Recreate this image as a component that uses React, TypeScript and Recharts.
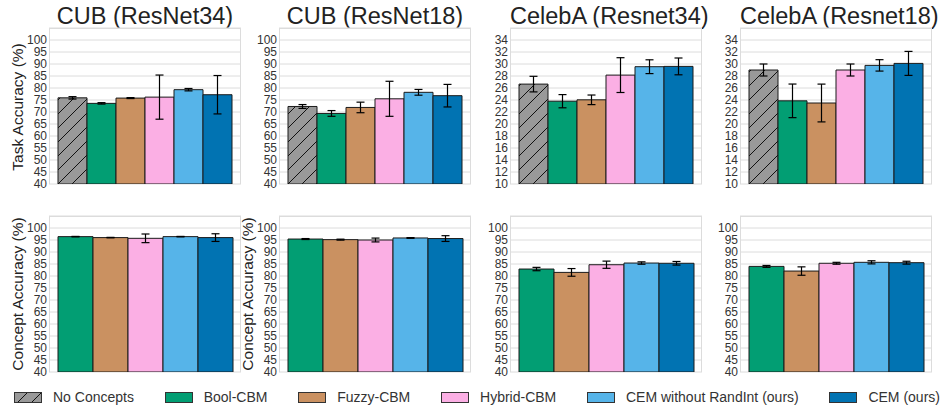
import React from "react";
import { BarChart, Bar, XAxis, YAxis, CartesianGrid, ErrorBar } from "recharts";

// ---------- data ----------
const methods = [
  "No Concepts",
  "Bool-CBM",
  "Fuzzy-CBM",
  "Hybrid-CBM",
  "CEM without RandInt (ours)",
  "CEM (ours)",
];
const methodColors = ["#999999", "#029e73", "#ca9161", "#fbafe4", "#56b4e9", "#0173b2"];

const titles = ["CUB (ResNet34)", "CUB (ResNet18)", "CelebA (Resnet34)", "CelebA (Resnet18)"];

// Task accuracy (all 6 methods)
const taskCubR34 = [75.9, 73.6, 75.8, 76.2, 79.3, 77.2];
const taskCubR34Err = [0.5, 0.3, 0.2, 9.2, 0.5, 8.0];
const taskCubR18 = [72.3, 69.4, 71.9, 75.5, 78.2, 76.8];
const taskCubR18Err = [0.8, 1.2, 2.2, 7.3, 1.2, 4.7];
const taskCelebR34 = [26.65, 23.8, 24.03, 28.15, 29.55, 29.6];
const taskCelebR34Err = [1.3, 1.1, 0.8, 2.9, 1.15, 1.4];
const taskCelebR18 = [29.0, 23.86, 23.5, 29.0, 29.77, 30.1];
const taskCelebR18Err = [1.0, 2.8, 3.15, 1.0, 0.95, 2.0];

// Concept accuracy (methods 2..6, no "No Concepts")
const conceptCubR34 = [96.4, 96.0, 95.7, 96.4, 96.0];
const conceptCubR34Err = [0.1, 0.1, 1.8, 0.1, 1.6];
const conceptCubR18 = [95.4, 95.15, 95.0, 95.85, 95.6];
const conceptCubR18Err = [0.2, 0.2, 0.8, 0.15, 1.2];
const conceptCelebR34 = [82.9, 81.5, 84.7, 85.4, 85.3];
const conceptCelebR34Err = [0.7, 1.6, 1.5, 0.5, 0.75];
const conceptCelebR18 = [84.0, 82.06, 85.3, 85.7, 85.55];
const conceptCelebR18Err = [0.4, 1.75, 0.4, 0.65, 0.6];

const cubTicks = [40, 45, 50, 55, 60, 65, 70, 75, 80, 85, 90, 95, 100];
const celebTicks = [10, 12, 14, 16, 18, 20, 22, 24, 26, 28, 30, 32, 34];
const cubDomain: [number, number] = [40, 105];
const celebDomain: [number, number] = [10, 36];

// ---------- layout ----------
const FONT = "'Liberation Sans', Arial, Helvetica, sans-serif";
const plotLefts = [49, 279, 510, 740];
const plotTops = [28, 216];
const PLOT_W = 192;
const PLOT_H = 156;
const YAXIS_W = 40;
const M_TOP = 5;
const M_BOTTOM = 8;
const M_RIGHT = 4;

type PanelProps = {
  left: number;
  top: number;
  values: number[];
  errs: number[];
  methodIdx: number[];
  ticks: number[];
  domain: [number, number];
};

function Panel({ left, top, values, errs, methodIdx, ticks, domain }: PanelProps) {
  const row: Record<string, number | string> = { name: "all" };
  values.forEach((v, i) => {
    row["v" + i] = v;
    row["e" + i] = errs[i];
  });
  const data = [row];
  return (
    <div style={{ position: "absolute", left: left - YAXIS_W, top: top - M_TOP }}>
      <BarChart
        width={YAXIS_W + PLOT_W + M_RIGHT}
        height={M_TOP + PLOT_H + M_BOTTOM}
        data={data}
        margin={{ top: M_TOP, right: M_RIGHT, left: 0, bottom: M_BOTTOM }}
        barCategoryGap={9}
        barGap={0}
      >
        <CartesianGrid vertical={false} stroke="#dcdcdc" strokeWidth={1} />
        <XAxis dataKey="name" type="category" hide />
        <YAxis
          width={YAXIS_W}
          domain={domain}
          ticks={ticks}
          interval={0}
          allowDataOverflow
          axisLine={false}
          tickLine={false}
          tickSize={0}
          tickMargin={2}
          tick={{ fontSize: 12, fill: "#333", fontFamily: FONT }}
        />
        {values.map((_, i) => {
          const m = methodIdx[i];
          const fill = m === 0 ? "url(#hatchNC)" : methodColors[m];
          return (
            <Bar
              key={i}
              dataKey={"v" + i}
              name={methods[m]}
              fill={fill}
              stroke="#1a1a1a"
              strokeWidth={1}
              isAnimationActive={false}
            >
              <ErrorBar dataKey={"e" + i} width={4} stroke="#000" strokeWidth={1.2} />
            </Bar>
          );
        })}
      </BarChart>
      <div
        style={{
          position: "absolute",
          left: YAXIS_W,
          top: M_TOP,
          width: PLOT_W,
          height: PLOT_H,
          boxSizing: "border-box",
          borderTop: "1px solid #dcdcdc",
          borderLeft: "1px solid #dcdcdc",
          borderRight: "1px solid #dcdcdc",
          pointerEvents: "none",
        }}
      />
    </div>
  );
}

const taskVals = [taskCubR34, taskCubR18, taskCelebR34, taskCelebR18];
const taskErrs = [taskCubR34Err, taskCubR18Err, taskCelebR34Err, taskCelebR18Err];
const conceptVals = [conceptCubR34, conceptCubR18, conceptCelebR34, conceptCelebR18];
const conceptErrs = [conceptCubR34Err, conceptCubR18Err, conceptCelebR34Err, conceptCelebR18Err];

function YLabel({ text, cx, cy }: { text: string; cx: number; cy: number }) {
  return (
    <div
      style={{
        position: "absolute",
        left: cx,
        top: cy,
        transform: "translate(-50%, -50%) rotate(-90deg)",
        whiteSpace: "nowrap",
        fontSize: 15.5,
        fontFamily: FONT,
        color: "#222",
        lineHeight: "18px",
      }}
    >
      {text}
    </div>
  );
}

function Swatch({ m }: { m: number }) {
  return (
    <svg width={28} height={11} style={{ display: "block" }}>
      <rect
        x={0.5}
        y={0.5}
        width={27}
        height={10}
        fill={m === 0 ? "url(#hatchNC)" : methodColors[m]}
        stroke="#333"
        strokeWidth={1}
      />
    </svg>
  );
}

export default function App() {
  return (
    <div
      style={{
        position: "absolute",
        left: 0,
        top: 0,
        width: 943,
        height: 406,
        background: "#fff",
        fontFamily: FONT,
        overflow: "hidden",
      }}
    >
      <svg width={0} height={0} style={{ position: "absolute" }}>
        <defs>
          <pattern id="hatchNC" patternUnits="userSpaceOnUse" width={14} height={14}>
            <rect x={0} y={0} width={14} height={14} fill="#999999" />
            <path
              d="M0,14 L14,0 M-3.5,3.5 L3.5,-3.5 M10.5,17.5 L17.5,10.5"
              stroke="#111"
              strokeWidth={1}
            />
          </pattern>
        </defs>
      </svg>

      {titles.map((t, i) => (
        <div
          key={t}
          style={{
            position: "absolute",
            left: plotLefts[i],
            top: 4,
            width: PLOT_W,
            textAlign: "center",
            fontSize: 23.5,
            lineHeight: "24px",
            color: "#222",
            whiteSpace: "nowrap",
          }}
        >
          {t}
        </div>
      ))}

      {plotLefts.map((l, i) => (
        <Panel
          key={"t" + i}
          left={l}
          top={plotTops[0]}
          values={taskVals[i]}
          errs={taskErrs[i]}
          methodIdx={[0, 1, 2, 3, 4, 5]}
          ticks={i < 2 ? cubTicks : celebTicks}
          domain={i < 2 ? cubDomain : celebDomain}
        />
      ))}
      {plotLefts.map((l, i) => (
        <Panel
          key={"c" + i}
          left={l}
          top={plotTops[1]}
          values={conceptVals[i]}
          errs={conceptErrs[i]}
          methodIdx={[1, 2, 3, 4, 5]}
          ticks={cubTicks}
          domain={cubDomain}
        />
      ))}

      <YLabel text="Task Accuracy (%)" cx={17.5} cy={106.7} />
      <YLabel text="Concept Accuracy (%)" cx={17.5} cy={293.7} />
      <YLabel text="Concept Accuracy (%)" cx={247.5} cy={293.7} />

      <div
        style={{
          position: "absolute",
          left: 14,
          top: 389,
          width: 926,
          height: 16,
          display: "flex",
          justifyContent: "space-between",
          alignItems: "center",
          fontSize: 14,
          color: "#333",
        }}
      >
        {methods.map((name, m) => (
          <div key={name} style={{ display: "flex", alignItems: "center", whiteSpace: "nowrap" }}>
            <Swatch m={m} />
            <span style={{ marginLeft: 11 }}>{name}</span>
          </div>
        ))}
      </div>
    </div>
  );
}
